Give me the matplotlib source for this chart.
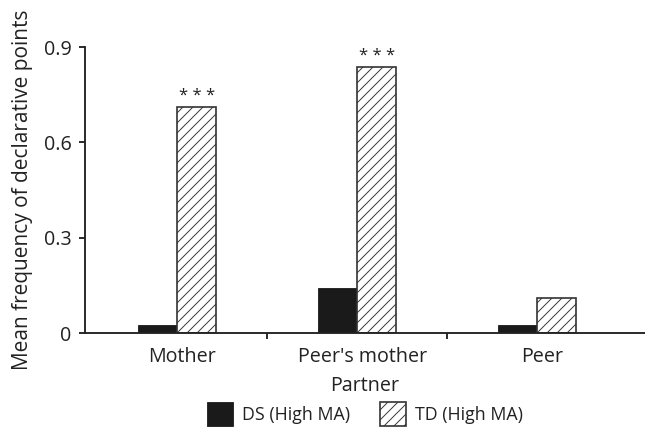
import matplotlib
matplotlib.use("Agg")
import matplotlib.pyplot as plt
import numpy as np

categories = ["Mother", "Peer's mother", "Peer"]
ds_values = [0.025, 0.142, 0.025]
td_values = [0.711, 0.838, 0.110]
significance = ["* * *", "* * *", ""]
series_labels = ["DS (High MA)", "TD (High MA)"]
yticks = [0, 0.3, 0.6, 0.9]
ytick_labels = ["0", "0.3", "0.6", "0.9"]

plt.rcParams['font.family'] = ['Open Sans', 'DejaVu Sans']
plt.rcParams['hatch.linewidth'] = 0.45

fig = plt.figure(figsize=(4.3, 2.88), dpi=150)
ax = fig.add_axes([0.132, 0.229, 0.868, 0.662])

x = np.arange(len(categories))
w = 0.217
ax.bar(x - w/2, ds_values, width=w, color="#1a1a1a", edgecolor="#1a1a1a", linewidth=0.4,
       label=series_labels[0])
ax.bar(x + w/2, td_values, width=w, color="white", edgecolor="#333333", linewidth=0.8,
       hatch="/////", label=series_labels[1])

for xi, v, s in zip(x, td_values, significance):
    if s:
        ax.text(xi + w/2, v + 0.01, s, ha="center", va="bottom", fontsize=8, color="#222222")

ax.set_xlim(-0.511, 2.6)
ax.set_ylim(0, 0.9)
ax.set_yticks(yticks)
ax.set_yticklabels(ytick_labels, fontsize=9.5, color="#222222")
ax.set_xticks([0.5, 1.5])
ax.set_xticklabels([])
ax.tick_params(axis='x', direction='out', length=3, width=0.9, color="#222222")
ax.tick_params(axis='y', direction='out', length=3, width=0.9, color="#222222")
for xi, c in zip(x, categories):
    ax.text(xi + 0.03, -0.045, c, ha="center", va="top", fontsize=9.5, color="#222222",
            transform=ax.transData, clip_on=False)

for s in ["top", "right"]:
    ax.spines[s].set_visible(False)
for s in ["left", "bottom"]:
    ax.spines[s].set_linewidth(0.9)
    ax.spines[s].set_color("#222222")

ax.set_xlabel("Partner", fontsize=9.5, color="#222222", labelpad=14)
ax.set_ylabel("Mean frequency of declarative points", fontsize=10, color="#222222", labelpad=5)

leg = ax.legend(loc="upper center", bbox_to_anchor=(0.5, -0.215), ncol=2, frameon=False,
                fontsize=8.5, handlelength=1.45, handleheight=1.75, columnspacing=1.7,
                handletextpad=0.5, borderaxespad=0.0)
for t in leg.get_texts():
    t.set_color("#222222")

fig.savefig("out.png", dpi=150)
